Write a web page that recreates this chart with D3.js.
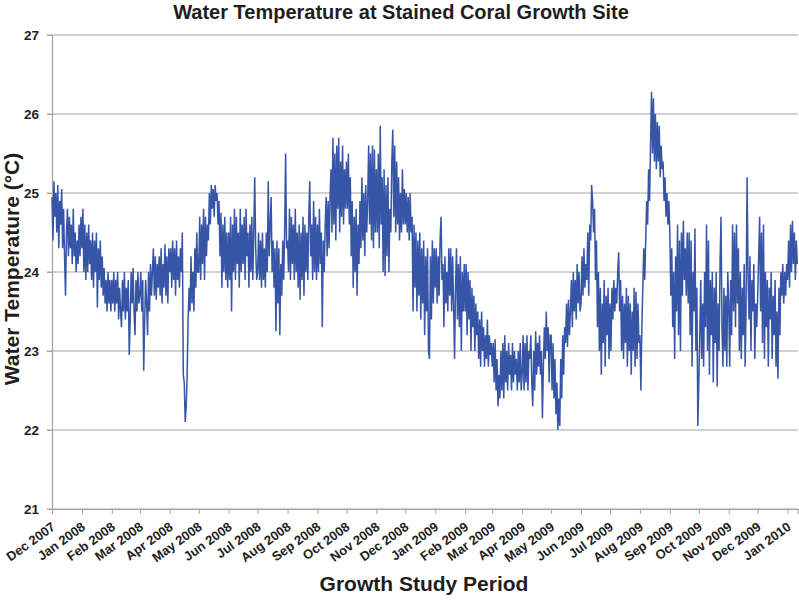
<!DOCTYPE html>
<html><head><meta charset="utf-8">
<script src="https://cdn.jsdelivr.net/npm/d3@7"></script>
<style>body{margin:0;background:#fff;} svg{display:block;font-family:"Liberation Sans",Arial,Helvetica,sans-serif;}</style>
</head><body><svg id="c" width="799" height="601"></svg>
<script>
const chartTitle = "Water Temperature at Stained Coral Growth Site";
const yTitle = "Water Temperature (°C)";
const xTitle = "Growth Study Period";
const yTicks = [21, 22, 23, 24, 25, 26, 27];
const monthLabels = ["Dec 2007","Jan 2008","Feb 2008","Mar 2008","Apr 2008","May 2008","Jun 2008","Jul 2008","Aug 2008","Sep 2008","Oct 2008","Nov 2008","Dec 2008","Jan 2009","Feb 2009","Mar 2009","Apr 2009","May 2009","Jun 2009","Jul 2009","Aug 2009","Sep 2009","Oct 2009","Nov 2009","Dec 2009","Jan 2010"];

// Daily water temperature readings (°C), starting on the 1st of each month
const dec2007 = [24.95, 24.4, 25.15, 24.7, 25.0, 24.5, 25.1, 24.3, 24.9, 24.6, 25.05, 24.3, 24.8, 24.2, 23.7, 24.5, 24.8, 24.2, 24.7, 24.3, 24.6, 24.1, 24.8, 24.2, 24.5, 24.0, 24.4, 24.1, 24.6, 24.2, 24.7];
const jan2008 = [24.3, 24.8, 24.0, 24.6, 23.9, 24.5, 24.0, 24.6, 24.1, 24.4, 23.9, 24.5, 23.8, 24.4, 24.0, 24.5, 23.55, 24.3, 23.9, 24.4, 23.8, 24.2, 23.7, 24.05, 23.6, 23.9, 23.5, 24.0, 23.6, 23.9, 23.5];
const feb2008 = [23.9, 23.6, 24.0, 23.5, 23.9, 23.6, 24.0, 23.4, 23.8, 23.5, 23.3, 23.9, 23.5, 24.0, 23.4, 23.8, 23.5, 23.9, 22.95, 23.4, 24.0, 23.6, 24.05, 23.5, 23.2, 23.9, 23.5, 24.0, 23.6];
const mar2008 = [23.7, 24.0, 23.5, 23.9, 22.75, 23.4, 23.9, 23.6, 23.2, 24.0, 23.5, 24.1, 23.7, 24.0, 24.3, 23.7, 24.2, 23.65, 24.1, 23.8, 24.2, 23.7, 24.3, 23.6, 24.1, 23.8, 24.35, 23.7, 24.2, 23.6, 24.3];
const apr2008 = [24.0, 24.3, 23.8, 24.4, 23.9, 24.3, 23.7, 24.4, 23.9, 24.2, 23.8, 24.3, 24.0, 24.5, 22.7, 22.6, 22.1, 22.3, 22.7, 23.4, 23.8, 23.5, 24.2, 23.6, 24.0, 23.5, 24.3, 23.8, 24.5, 24.0];
const may2008 = [24.0, 24.7, 23.9, 24.6, 24.1, 24.8, 23.9, 24.7, 24.2, 24.6, 24.4, 25.0, 24.6, 25.1, 24.8, 25.05, 24.7, 25.1, 24.9, 25.0, 24.6, 24.9, 24.2, 24.75, 23.8, 24.6, 24.0, 24.7, 23.9, 24.5, 23.8];
const jun2008 = [24.5, 23.9, 24.7, 23.5, 24.6, 24.0, 24.8, 23.9, 24.7, 24.1, 24.5, 23.8, 24.8, 24.0, 24.6, 24.1, 24.7, 23.9, 24.8, 24.2, 24.5, 23.8, 24.6, 24.0, 24.7, 23.9, 24.5, 25.2, 24.3, 23.9];
const jul2008 = [24.0, 24.5, 23.9, 24.4, 23.8, 24.5, 23.9, 24.3, 23.8, 24.5, 24.0, 25.15, 24.2, 24.6, 24.95, 24.0, 24.4, 23.8, 24.3, 23.25, 24.4, 23.6, 24.3, 23.2, 24.1, 23.7, 24.4, 23.9, 24.5, 25.5, 24.3];
const aug2008 = [24.4, 24.0, 24.8, 23.9, 24.7, 24.1, 24.6, 23.9, 24.8, 24.0, 24.5, 23.8, 24.6, 23.65, 24.5, 23.9, 24.7, 23.7, 24.6, 24.0, 24.5, 23.9, 24.7, 25.15, 24.2, 24.6, 23.9, 24.9, 24.0, 24.7, 23.9];
const sep2008 = [24.6, 24.0, 24.8, 24.1, 24.5, 23.3, 24.4, 24.0, 24.6, 24.95, 24.2, 24.9, 24.3, 24.95, 25.3, 24.5, 25.7, 24.6, 25.5, 24.4, 25.6, 24.8, 25.7, 24.5, 25.4, 24.7, 25.6, 24.6, 25.3, 24.8];
const oct2008 = [25.4, 24.8, 25.5, 24.6, 25.2, 24.2, 24.9, 23.8, 24.7, 24.0, 24.8, 23.7, 24.6, 24.1, 24.9, 24.3, 25.2, 24.4, 25.0, 24.2, 25.1, 24.5, 24.9, 25.6, 24.6, 25.5, 24.4, 25.6, 24.3, 25.55, 24.5];
const nov2008 = [25.3, 24.5, 25.5, 24.3, 25.85, 24.6, 25.2, 24.0, 25.3, 23.95, 25.1, 24.2, 25.2, 24.0, 24.8, 24.5, 25.4, 25.8, 24.7, 25.6, 24.5, 25.4, 24.6, 25.2, 24.4, 25.0, 24.5, 25.3, 24.6, 25.05];
const dec2008 = [24.6, 25.0, 24.5, 24.95, 24.4, 25.0, 24.5, 24.7, 23.5, 24.6, 23.8, 24.5, 23.5, 24.4, 23.7, 24.5, 23.4, 24.3, 23.6, 24.4, 23.2, 24.2, 23.5, 24.3, 23.0, 22.9, 24.2, 23.4, 24.4, 23.6, 24.3];
const jan2009 = [23.8, 24.3, 23.6, 24.2, 23.7, 24.4, 24.7, 23.9, 24.1, 23.3, 24.2, 23.6, 24.0, 23.5, 24.3, 23.7, 24.3, 23.5, 24.2, 23.6, 22.9, 23.8, 24.3, 23.4, 24.1, 23.3, 24.2, 23.0, 24.0, 23.5, 24.1];
const feb2009 = [23.5, 24.1, 23.2, 24.0, 23.4, 23.9, 23.0, 23.8, 23.3, 23.7, 23.0, 23.6, 23.2, 23.5, 22.9, 23.4, 22.8, 23.5, 23.0, 23.3, 22.8, 23.2, 22.9, 23.4, 22.8, 23.2, 22.95, 23.1];
const mar2009 = [22.8, 23.1, 22.6, 23.15, 22.5, 22.9, 22.3, 22.7, 22.4, 23.0, 22.5, 23.1, 22.4, 23.2, 22.6, 23.0, 22.5, 23.1, 22.7, 22.95, 22.5, 23.1, 22.6, 23.0, 22.7, 22.9, 22.5, 23.0, 22.6, 23.1, 22.5];
const apr2009 = [22.7, 23.2, 22.5, 23.1, 22.6, 23.2, 22.5, 23.0, 22.9, 23.2, 22.6, 22.3, 23.0, 22.5, 23.25, 22.7, 23.1, 22.8, 23.2, 22.7, 23.0, 22.15, 22.8, 23.3, 22.9, 23.5, 23.0, 23.3, 22.6, 23.2];
const may2009 = [23.2, 22.5, 23.1, 22.4, 22.9, 22.2, 22.6, 22.0, 22.4, 22.05, 22.9, 22.4, 23.2, 22.7, 23.3, 23.1, 23.6, 23.05, 23.65, 23.2, 23.5, 23.9, 23.3, 24.0, 23.5, 23.9, 23.4, 24.1, 23.6, 24.0, 23.5];
const jun2009 = [23.6, 24.2, 23.7, 24.3, 23.8, 24.1, 23.9, 24.5, 23.7, 24.6, 24.4, 25.1, 24.9, 24.5, 24.8, 23.9, 24.4, 23.3, 24.0, 23.0, 23.8, 22.7, 23.6, 23.1, 23.9, 22.8, 23.7, 23.2, 23.8, 22.9];
const jul2009 = [23.6, 23.0, 23.8, 23.4, 23.9, 23.5, 23.8, 23.6, 24.0, 24.25, 23.5, 23.9, 23.0, 23.7, 22.9, 23.6, 23.1, 23.8, 22.8, 23.7, 23.0, 23.6, 22.7, 23.5, 23.0, 23.8, 22.8, 23.75, 22.9, 23.6, 23.1];
const aug2009 = [23.2, 22.5, 23.3, 23.8, 24.3, 23.9, 24.4, 24.9, 24.6, 25.3, 24.9, 25.6, 26.28, 25.5, 26.2, 25.4, 26.0, 25.3, 25.9, 25.4, 25.85, 25.2, 25.6, 25.3, 25.4, 24.9, 25.2, 24.7, 25.0, 24.6, 24.9];
const sep2009 = [24.5, 23.7, 24.3, 23.3, 24.0, 22.9, 24.2, 23.5, 24.6, 23.2, 24.4, 23.0, 24.5, 23.7, 24.65, 23.9, 24.3, 23.7, 24.5, 23.6, 24.5, 23.2, 24.4, 22.8, 24.0, 23.5, 24.55, 23.0, 23.8, 22.05];
const oct2009 = [22.6, 23.2, 23.9, 22.9, 23.6, 22.8, 24.0, 23.3, 24.6, 23.0, 24.4, 22.7, 23.9, 23.2, 24.0, 22.6, 23.8, 23.1, 24.0, 22.55, 23.6, 23.0, 24.1, 24.7, 23.3, 22.8, 23.8, 23.0, 23.7, 22.8, 24.0];
const nov2009 = [23.6, 22.8, 23.9, 23.2, 24.6, 23.5, 24.5, 23.3, 24.6, 23.6, 24.3, 23.0, 24.0, 22.9, 23.8, 23.2, 24.1, 22.8, 23.6, 25.2, 24.0, 23.4, 24.2, 23.0, 23.9, 23.5, 24.1, 22.9, 23.6, 23.3];
const dec2009 = [23.7, 24.2, 24.7, 23.5, 24.5, 23.1, 24.6, 22.9, 24.0, 23.3, 23.9, 22.8, 23.8, 23.4, 24.0, 22.9, 23.7, 23.2, 23.9, 22.8, 23.5, 22.65, 23.8, 23.2, 24.0, 23.7, 24.1, 23.6, 24.0, 23.7, 24.1];
const jan2010 = [23.9, 24.4, 23.8, 24.6, 24.0, 24.65, 24.1, 24.5, 23.9, 24.4, 24.1];

const monthSeries = [dec2007, jan2008, feb2008, mar2008, apr2008, may2008, jun2008, jul2008, aug2008, sep2008, oct2008, nov2008,
  dec2008, jan2009, feb2009, mar2009, apr2009, may2009, jun2009, jul2009, aug2009, sep2009, oct2009, nov2009, dec2009, jan2010];

const parseLabel = d3.timeParse("%b %Y");
const monthStarts = monthLabels.map(parseLabel);
const data = [];
monthSeries.forEach((arr, m) => {
  arr.forEach((v, i) => data.push({ date: d3.timeDay.offset(monthStarts[m], i), temp: v }));
});

const svg = d3.select("#c");
const plotLeft = 52, plotRight = 798, plotTop = 35, plotBottom = 509;

const x = d3.scaleTime()
  .domain([new Date(2007, 11, 1), new Date(2010, 0, 11, 18)])
  .range([plotLeft, plotRight]);
const y = d3.scaleLinear().domain([21, 27]).range([plotBottom, plotTop]);

const gridColor = "#a3a3a3";
const textColor = "#1e1e1e";

// horizontal gridlines
svg.append("g").selectAll("line").data(yTicks).join("line")
  .attr("x1", plotLeft - 5).attr("x2", plotRight)
  .attr("y1", d => y(d)).attr("y2", d => y(d))
  .attr("stroke", gridColor).attr("stroke-width", 1.2);

// y axis
const yAxis = svg.append("g").attr("transform", `translate(${plotLeft},0)`)
  .call(d3.axisLeft(y).tickValues(yTicks).tickSize(5).tickPadding(8).tickFormat(d3.format("d")));
yAxis.select(".domain").attr("stroke", gridColor).attr("stroke-width", 1.2);
yAxis.selectAll(".tick line").attr("stroke", gridColor);
yAxis.selectAll("text").attr("fill", textColor).style("font-size", "13.5px").style("font-weight", "bold");

// x axis
const xAxis = svg.append("g").attr("transform", `translate(0,${plotBottom})`)
  .call(d3.axisBottom(x).tickValues(monthStarts).tickSize(5).tickFormat((d, i) => monthLabels[i]));
xAxis.select(".domain").attr("stroke", gridColor).attr("stroke-width", 1.2);
xAxis.selectAll(".tick line").attr("stroke", gridColor);
xAxis.selectAll("text")
  .attr("fill", textColor)
  .style("font-size", "13px").style("font-weight", "bold")
  .attr("text-anchor", "end")
  .attr("y", 0).attr("dy", "0.35em")
  .attr("transform", "translate(1,16) rotate(-36)");

// temperature line
const line = d3.line().x(d => x(d.date)).y(d => y(d.temp));
svg.append("path").datum(data)
  .attr("d", line)
  .attr("fill", "none")
  .attr("stroke", "#3755a6")
  .attr("stroke-width", 1.5)
  .attr("stroke-linejoin", "miter");

// titles
svg.append("text").attr("x", 401).attr("y", 19).attr("text-anchor", "middle")
  .attr("fill", textColor).style("font-size", "20px").style("font-weight", "bold").text(chartTitle);
svg.append("text").attr("transform", "translate(19,269) rotate(-90)").attr("text-anchor", "middle")
  .attr("fill", textColor).style("font-size", "21px").style("font-weight", "bold").text(yTitle);
svg.append("text").attr("x", 424).attr("y", 591).attr("text-anchor", "middle")
  .attr("fill", textColor).style("font-size", "21px").style("font-weight", "bold").text(xTitle);
</script></body></html>
